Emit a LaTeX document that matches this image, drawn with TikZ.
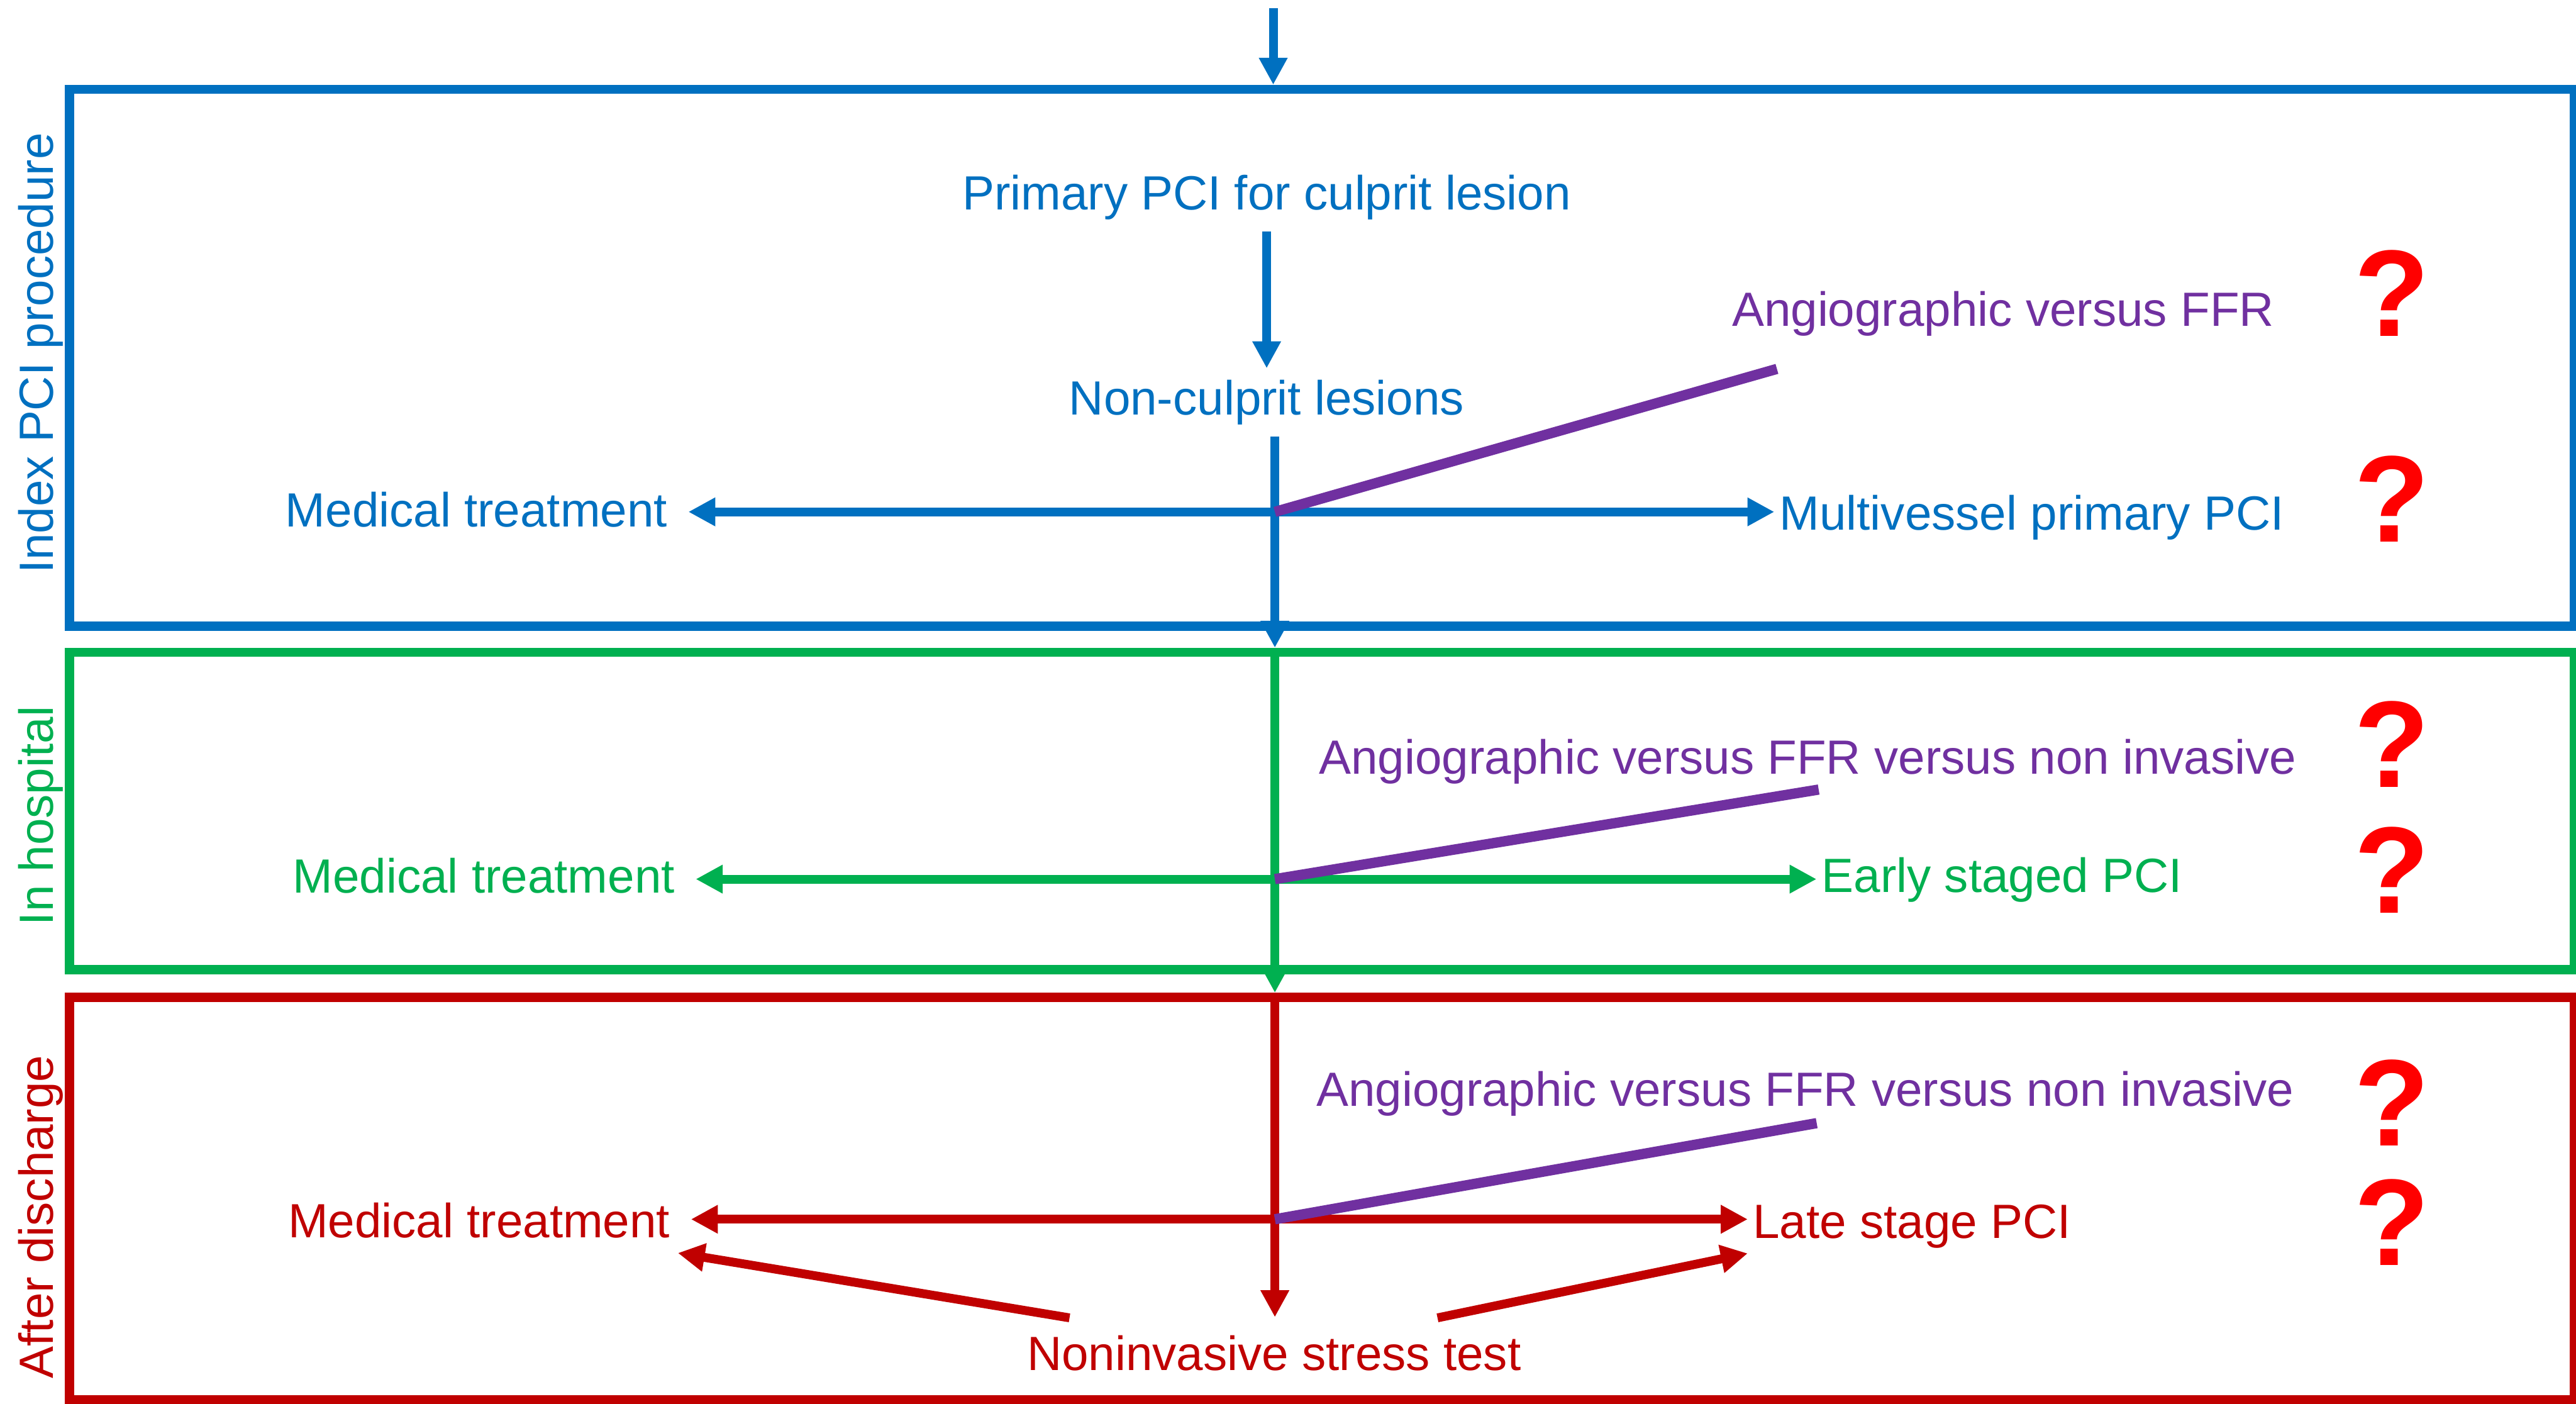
\documentclass[tikz,border=0pt]{standalone}
\usepackage{fontspec}
\setmainfont{Liberation Sans}
\usetikzlibrary{arrows.meta, positioning, calc}
\definecolor{cblue}{HTML}{0070C0}
\definecolor{cgreen}{HTML}{00B050}
\definecolor{cred}{HTML}{C00000}
\definecolor{cpurple}{HTML}{7030A0}
\definecolor{cqred}{HTML}{FF0000}
\tikzset{
  phase/.style={draw=#1, line width=4.5pt, inner sep=0pt},
  flow/.style={-{Triangle[length=0.46cm, width=0.46cm]}, draw=#1, line width=4.3pt},
  option/.style={draw=cpurple, line width=5pt},
  txt/.style={text=#1, font=\fontsize{23.4}{28}\selectfont, inner sep=0pt, outer sep=0pt},
  stage/.style={txt=#1, anchor=base, inner ysep=0.2cm},
  leftend/.style={txt=#1, anchor=base east, inner xsep=0.36cm, inner ysep=0.26cm},
  rightend/.style={txt=#1, anchor=base west, inner xsep=0.09cm, inner ysep=0.09cm},
  question/.style={txt=cpurple, anchor=base west},
  phaselabel/.style={txt=#1, rotate=90, anchor=base},
  qmark/.style={text=cqred, font=\fontsize{60}{70}\selectfont\bfseries, inner sep=0pt, outer sep=0pt},
}

\begin{document}
\begin{tikzpicture}[x=0.028125cm, y=-0.028125cm]
  \useasboundingbox (0,0) rectangle (1568,854.05);
  % phase boxes
  \node[phase=cblue, minimum width=42.877cm, minimum height=9.186cm] (idx) at (804.75,217.7) {};
  \node[phase=cgreen, minimum width=42.877cm, minimum height=5.428cm] (hosp) at (804.75,493.5) {};
  \node[phase=cred, minimum width=42.877cm, minimum height=6.891cm] (dis) at (804.75,729.5) {};
  \node[phaselabel=cblue] (idxlab) at (32.5,215) {Index PCI procedure};
  \node[phaselabel=cgreen] (hosplab) at (32.5,496.5) {In hospital};
  \node[phaselabel=cred] (dislab) at (32.5,740.5) {After discharge};

  % index PCI procedure
  \coordinate (entry) at (775,5);
  \coordinate (jA) at (776,311.5);
  \coordinate (pA) at (1081.6,224.5);
  \node[stage=cblue] (prim) at (771,127.5) {Primary PCI for culprit lesion};
  \node[stage=cblue] (noncul) at (771,252.4) {Non-culprit lesions};
  \node[leftend=cblue] (medA) at (419,320.5) {Medical treatment};
  \node[rightend=cblue] (multi) at (1080,322.5) {Multivessel primary PCI};
  \node[question] (angA) at (1054.3,198.3) {Angiographic versus FFR};
  \node[qmark] (qA1) at (1456,178.5) {?};
  \node[qmark] (qA2) at (1456,303.5) {?};
  \draw[flow=cblue] (entry) -- (entry |- idx.north);
  \draw[flow=cblue] (prim) -- (noncul);
  \draw[flow=cblue] (noncul.south -| jA) -- (jA |- hosp.north);
  \draw[flow=cblue] (jA) -- (jA -| medA.east);
  \draw[flow=cblue] (jA) -- (jA -| multi.west);
  \draw[option] (jA) -- (pA);

  % in hospital
  \coordinate (jB) at (776,535);
  \coordinate (pB) at (1107,480.5);
  \node[leftend=cgreen] (medB) at (423.5,543.4) {Medical treatment};
  \node[rightend=cgreen] (early) at (1105.7,543) {Early staged PCI};
  \node[question] (angB) at (802.9,471) {Angiographic versus FFR versus non invasive};
  \node[qmark] (qB1) at (1456,453) {?};
  \node[qmark] (qB2) at (1456,529.5) {?};
  \draw[flow=cgreen] (jB |- hosp.north) -- (jB |- dis.north);
  \draw[flow=cgreen] (jB) -- (jB -| medB.east);
  \draw[flow=cgreen] (jB) -- (jB -| early.west);
  \draw[option] (jB) -- (pB);

  % after discharge
  \coordinate (jC) at (776,742);
  \coordinate (pC) at (1105.8,683.5);
  \coordinate (sL) at (651,802);
  \coordinate (sR) at (875,802);
  \node[leftend=cred] (medC) at (420.6,753) {Medical treatment};
  \node[rightend=cred] (late) at (1063.8,753.5) {Late stage PCI};
  \node[question] (angC) at (801.3,673) {Angiographic versus FFR versus non invasive};
  \node[stage=cred, inner ysep=0.31cm] (stress) at (775.5,833.8) {Noninvasive stress test};
  \node[qmark] (qC1) at (1456,671) {?};
  \node[qmark] (qC2) at (1456,744) {?};
  \draw[flow=cred] (jC |- dis.north) -- (jC |- stress.north);
  \draw[flow=cred] (jC) -- (jC -| medC.east);
  \draw[flow=cred] (jC) -- (jC -| late.west);
  \draw[flow=cred] (sL) -- ($(medC.south east)+(-8,0)$);
  \draw[flow=cred] (sR) -- (late.south west);
  \draw[option] (jC) -- (pC);
\end{tikzpicture}
\end{document}
